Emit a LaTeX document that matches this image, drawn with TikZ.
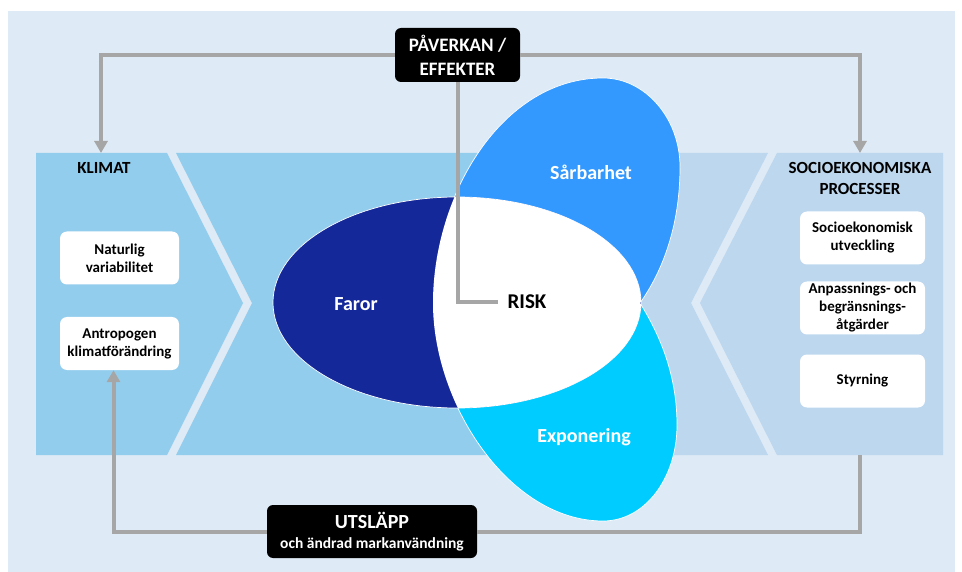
\documentclass[tikz,border=0pt]{standalone}
\usepackage{fontspec}
\setmainfont{Carlito}
\usetikzlibrary{arrows.meta}
\definecolor{bgblue}{HTML}{DEEAF6}
\definecolor{climblue}{HTML}{93CDED}
\definecolor{socblue}{HTML}{BDD7EE}
\definecolor{farorblue}{HTML}{15289A}
\definecolor{sarbblue}{HTML}{3399FF}
\definecolor{expblue}{HTML}{00CCFF}
\definecolor{linegray}{HTML}{A6A6A6}
\tikzset{My Gray Line/.style={line width=4, linegray},
	My Tip/.style={-{Triangle[length=12pt,width=13pt]}},
	My Petal Style/.style={draw=white, line width=0.7},
	My Petal Text/.style={text=white, font=\fontsize{20}{24}\selectfont\bfseries},
	My Head Text/.style={font=\fontsize{17}{21}\selectfont\bfseries, align=center},
	My Dark Box/.style={fill=black, rounded corners=6, text=white, align=center, inner sep=0,
		minimum width=125, minimum height=54, font=\fontsize{19}{24}\selectfont\bfseries},
	My White Box/.style={fill=white, rounded corners=7, align=center, inner sep=0,
		minimum height=53, font=\fontsize{15}{18}\selectfont\bfseries}}
\def\SarbPath{(433,303) .. controls (433,195) and (502,78) .. (603,78)
	.. controls (645,78) and (680,118) .. (680,167)
	.. controls (680,230) and (660,275) .. (640,303) -- cycle}
\def\ExpoPath{(433,303) .. controls (433,405) and (510,521) .. (603,521)
	.. controls (645,521) and (677,478) .. (677,425)
	.. controls (677,375) and (660,335) .. (640,303) -- cycle}
\def\FarorPath{(457,302.5) ellipse [x radius=184, y radius=105.5]}

\begin{document}
\begin{tikzpicture}[x=1pt,y=-1pt]
		\useasboundingbox (0,0) rectangle (962,572);
		\fill[bgblue] (8,11) rectangle (955,572);
		% band with the two chevrons
		\fill[climblue] (36,153) -- (167,153) -- (243,303) -- (167,455) -- (36,455) -- cycle;
		\fill[climblue] (176,153) -- (560,153) -- (560,455) -- (176,455) -- (252,303) -- cycle;
		\fill[socblue] (560,153) -- (768,153) -- (691,303) -- (768,455) -- (560,455) -- cycle;
		\fill[socblue] (777,153) -- (943,153) -- (943,455) -- (777,455) -- (700,303) -- cycle;
		\coordinate (klimtop) at (101,153);
		\coordinate (soctop) at (860,153);
		\coordinate (socbot) at (860,455);
		
		% petals
		\draw[My Petal Style, fill=sarbblue] \SarbPath;
		\draw[My Petal Style, fill=expblue] \ExpoPath;
		\draw[My Petal Style, fill=farorblue] \FarorPath;
		\begin{scope}
			\clip \FarorPath;
			\fill[white] \SarbPath;
			\fill[white] \ExpoPath;
		\end{scope}
		
		\node[My Petal Text] (faror) at (356,304) {Faror};
		\node[My Petal Text] (sarb) at (591,172) {Sårbarhet};
		\node[My Petal Text] (expo) at (584,437) {Exponering};
		\node[font=\fontsize{21}{24}\selectfont\bfseries, inner xsep=9, inner ysep=0] (risk) at (527,302) {RISK};
		
		\node[My Head Text] (klimat) at (104,168) {KLIMAT};
		\node[My Head Text] (socio) at (860,178) {SOCIOEKONOMISKA\\PROCESSER};
		
		\node[My White Box, minimum width=119] (natur) at (119.5,258) {Naturlig\\variabilitet};
		\node[My White Box, minimum width=119] (antro) at (119.5,343.5) {Antropogen\\klimatförändring};
		\node[My White Box, minimum width=125] (sutv) at (862.5,238) {Socioekonomisk\\utveckling};
		\node[My White Box, minimum width=125] (anpass) at (862.5,308) {Anpassnings- och\\begränsnings-\\åtgärder};
		\node[My White Box, minimum width=125] (styr) at (862.5,381) {Styrning};
		
		\node[My Dark Box] (paverkan) at (457.5,55) {PÅVERKAN /\\EFFEKTER};
		\node[My Dark Box, minimum width=210, minimum height=53, font=\fontsize{20}{22}\selectfont\bfseries] (utslapp) at (372,531.5)
			{UTSLÄPP\\[-2pt]{\fontsize{15.5}{18}\selectfont och ändrad markanvändning}};
		
		% connectors
		\draw[My Gray Line, My Tip] (paverkan.west) -| (klimtop);
		\draw[My Gray Line, My Tip] (paverkan.east) -| (soctop);
		\draw[My Gray Line] (paverkan.south) |- (risk.west);
		\draw[My Gray Line] (socbot) |- (utslapp.east);
		\draw[My Gray Line, My Tip] (utslapp.west) -| ([xshift=-6pt]antro.south);
	\end{tikzpicture}
\end{document}
